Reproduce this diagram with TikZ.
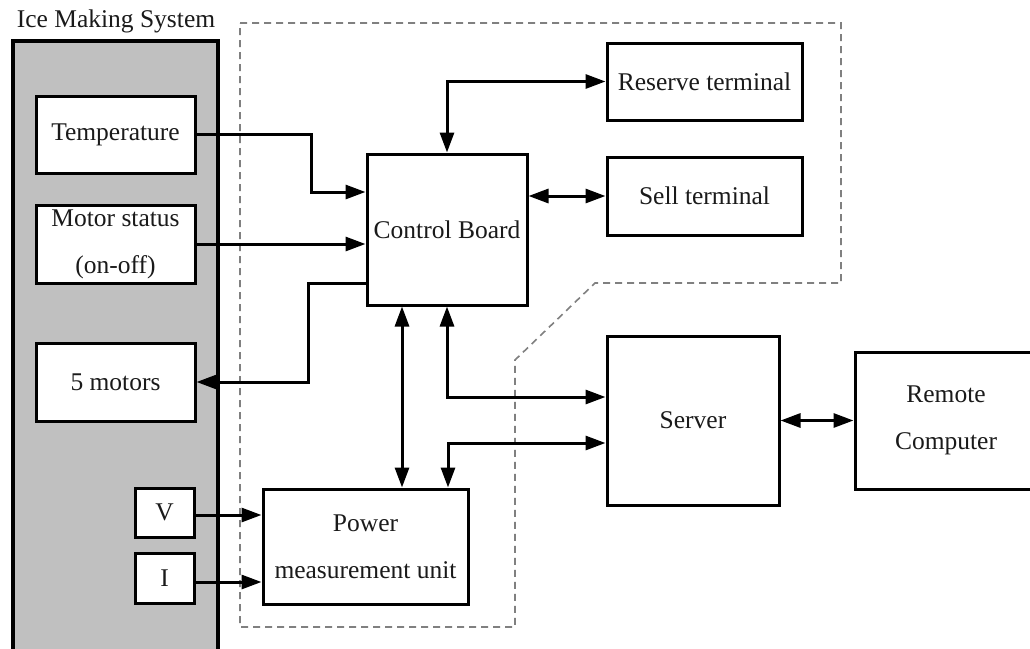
\documentclass[tikz,border=0pt]{standalone}
\usepackage{fontspec}
\setmainfont{Liberation Serif}
\usetikzlibrary{arrows.meta}
\definecolor{panelgray}{HTML}{C0C0C0}
\definecolor{dashgray}{HTML}{808080}
\definecolor{ink}{HTML}{1A1A1A}

\begin{document}
\begin{tikzpicture}[x=1pt,y=-1pt,
  lbl/.style={font=\fontsize{25.5}{47}\selectfont, text=ink, align=center},
  blk/.style={lbl, draw=black, line width=3pt, fill=white, inner sep=0pt},
  link/.style={line width=3pt, draw=black},
  tip/.style={Triangle[length=20pt,width=14pt]},
  onetip/.style={link, -{Triangle[length=20pt,width=14pt]}},
  twotip/.style={link, {Triangle[length=20pt,width=14pt]}-{Triangle[length=20pt,width=14pt]}},
  region/.style={draw=dashgray, line width=1.6pt, dash pattern=on 7pt off 5pt}
]
\useasboundingbox (0,0) rectangle (1030,648);
\fill[white] (0,0) rectangle (1030,648);

% ice making system panel (runs off the bottom edge)
\draw[fill=panelgray, line width=3.2pt] (13,662) -- (13,41) -- (218,41) -- (218,662);
\node[lbl] (title) at (116,21) {Ice Making System};

% dashed region round the control side
\draw[region] (240,23) -- (841,23) -- (841,283) -- (595,283) -- (515,360)
  -- (515,627) -- (240,627) -- cycle;

% blocks
\node[blk, minimum width=159pt, minimum height=77pt] (temp) at (115.5,134.5) {Temperature};
\node[blk, minimum width=159pt, minimum height=78pt] (mot)  at (115.5,244) {Motor status\\(on-off)};
\node[blk, minimum width=159pt, minimum height=78pt] (mot5) at (115.5,382) {5 motors};
\node[blk, minimum width=59pt, minimum height=49pt] (v) at (164.5,512.5) {V};
\node[blk, minimum width=59pt, minimum height=50pt] (i) at (164.5,578) {I};
\node[blk, minimum width=205pt, minimum height=115pt] (pmu) at (365.5,546.5) {Power\\measurement unit};
\node[blk, minimum width=160pt, minimum height=151pt] (cb) at (447,229.5) {Control Board};
\node[blk, minimum width=195pt, minimum height=77pt] (res) at (704.5,81.5) {Reserve terminal};
\node[blk, minimum width=195pt, minimum height=78pt] (sell) at (704.5,196) {Sell terminal};
\node[blk, minimum width=172pt, minimum height=169pt] (srv) at (693,420.5) {Server};
\node[blk, minimum width=182pt, minimum height=137pt] (rem) at (946,420.5) {Remote\\Computer};

% signals into the control board
\draw[onetip] (temp.east) -- ++(115,0) |- ([yshift=37.5pt]cb.west);
\draw[onetip] (mot.east) -- (mot.east -| cb.west);
\draw[onetip] ([yshift=-53.5pt]cb.west) -- ++(-57,0) |- (mot5.east);

% terminals
\draw[twotip] (cb.north) |- (res.west);
\draw[twotip] (cb.east |- sell.west) -- (sell.west);

% control board, power unit and server
\draw[twotip] ([xshift=-45pt]cb.south) -- ([xshift=-45pt]cb.south |- pmu.north);
\draw[twotip] (cb.south) |- ([yshift=23.5pt]srv.west);
\draw[twotip] ([xshift=82.5pt]pmu.north) |- ([yshift=-22.5pt]srv.west);
\draw[twotip] (srv.east) -- (srv.east -| rem.west);

% measured quantities
\draw[onetip] ([yshift=-2.5pt]v.east) -- ([yshift=-2.5pt]v.east -| pmu.west);
\draw[onetip] ([yshift=-4pt]i.east) -- ([yshift=-4pt]i.east -| pmu.west);
\end{tikzpicture}
\end{document}
